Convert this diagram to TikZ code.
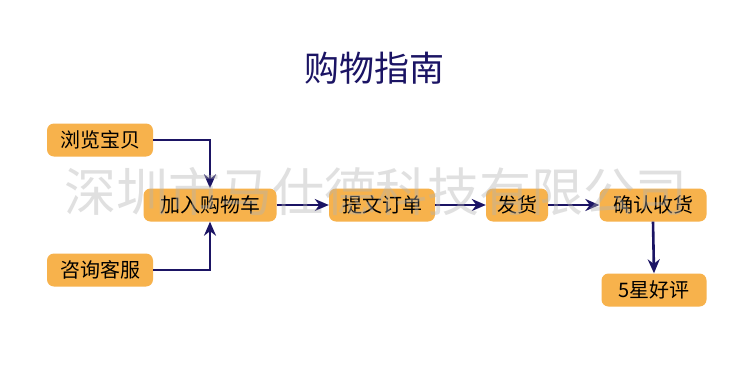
\documentclass[tikz,border=0pt]{standalone}
\usepackage{fontspec}
\newfontfamily\cjk{Noto Sans CJK SC}
\usetikzlibrary{arrows.meta}
\definecolor{navy}{HTML}{1B1464}
\definecolor{boxfill}{HTML}{F7B24C}
\begin{document}
\begin{tikzpicture}[x=1pt,y=-1pt,
  stepbox/.style={fill=boxfill, rounded corners=7pt, inner sep=0pt, minimum height=33pt, font=\cjk\fontsize{20}{20}\selectfont, text=black},
  conn/.style={draw=navy, line width=2.6pt, -{Stealth[length=14pt,width=12pt]}}]
\useasboundingbox (0,0) rectangle (750,375);
\fill[white] (0,0) rectangle (750,375);
\node[font=\cjk\fontsize{35}{35}\selectfont, text=navy] (title) at (374,68) {购物指南};
\node[stepbox, minimum width=106pt] (browse) at (100,140) {浏览宝贝};
\node[stepbox, minimum width=133pt] (cart) at (210,205) {加入购物车};
\node[stepbox, minimum width=106pt] (consult) at (100,270) {咨询客服};
\node[stepbox, minimum width=106pt] (order) at (382,205) {提文订单};
\node[stepbox, minimum width=62pt] (ship) at (517,205) {发货};
\node[stepbox, minimum width=107pt] (confirm) at (653,205) {确认收货};
\node[stepbox, minimum width=105pt] (review) at (654,290) {5星好评};
\draw[conn] (browse.east) -| (cart.north);
\draw[conn] (consult.east) -| (cart.south);
\draw[conn] (cart.east) -- (order.west);
\draw[conn] (order.east) -- (ship.west);
\draw[conn] (ship.east) -- (confirm.west);
\draw[conn] (confirm.south) -- (review.north);
\node[font=\cjk\fontsize{52}{52}\selectfont, text=black!30, opacity=0.4] (wm) at (376,192) {深圳市马仕德科技有限公司};
\end{tikzpicture}
\end{document}
